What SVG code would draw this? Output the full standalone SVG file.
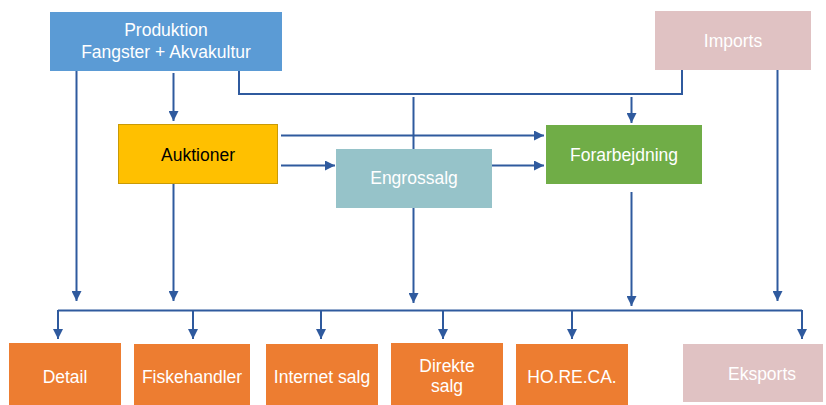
<svg xmlns="http://www.w3.org/2000/svg" width="826" height="405" viewBox="0 0 826 405">
<defs>
<marker id="ah" viewBox="0 0 10 10" refX="10" refY="5" markerWidth="10" markerHeight="10" markerUnits="userSpaceOnUse" orient="auto">
<path d="M0,0 L10,5 L0,10 z" fill="#2F5A9E"/>
</marker>
<style>
.t{font-family:"Liberation Sans",Arial,sans-serif;font-size:17.5px;text-anchor:middle;fill:#ffffff}
.c{fill:none;stroke:#2F5A9E;stroke-width:2}
.a{marker-end:url(#ah)}
.o{fill:#ED7D31}
</style>
</defs>
<rect width="826" height="405" fill="#ffffff"/>
<g id="connectors">
<path class="c" d="M239,71 V94 H682 V70"/>
<path class="c a" d="M76.5,71 V301"/>
<path class="c a" d="M173.5,73 V121"/>
<path class="c a" d="M173.5,184 V301"/>
<path class="c a" d="M413.5,97 V303"/>
<path class="c a" d="M631.5,97 V123"/>
<path class="c a" d="M631.5,192 V306"/>
<path class="c a" d="M777.5,70 V301"/>
<path class="c a" d="M281,135.5 H544"/>
<path class="c a" d="M281,165.5 H335"/>
<path class="c a" d="M492,165.5 H544"/>
<path class="c" d="M58,310.5 H802"/>
<path class="c a" d="M58,310 V339"/>
<path class="c a" d="M193,310 V339"/>
<path class="c a" d="M321,310 V339"/>
<path class="c a" d="M443,310 V339"/>
<path class="c a" d="M572,310 V339"/>
<path class="c a" d="M802,310 V339"/>
</g>
<g id="produktion">
<rect x="50" y="12" width="232" height="59" fill="#5B9BD5"/>
<text class="t" x="166" y="36">Produktion</text>
<text class="t" x="166" y="58">Fangster + Akvakultur</text>
</g>
<g id="imports">
<rect x="655" y="11" width="156" height="59" fill="#E0C2C3"/>
<text class="t" x="733" y="47">Imports</text>
</g>
<g id="auktioner">
<rect x="118.5" y="124.5" width="159" height="59" fill="#FFC000" stroke="#C99A06" stroke-width="1"/>
<text class="t" x="198" y="161" style="fill:#000000">Auktioner</text>
</g>
<g id="engrossalg">
<rect x="336" y="149" width="156" height="59" fill="#96C3C9"/>
<text class="t" x="414" y="184">Engrossalg</text>
</g>
<g id="forarbejdning">
<rect x="546" y="125" width="156" height="59" fill="#70AD47"/>
<text class="t" x="624" y="161">Forarbejdning</text>
</g>
<g id="detail">
<rect class="o" x="9" y="343" width="112" height="62"/>
<text class="t" x="65" y="383">Detail</text>
</g>
<g id="fiskehandler">
<rect class="o" x="134" y="344" width="116" height="61"/>
<text class="t" x="192" y="383">Fiskehandler</text>
</g>
<g id="internet">
<rect class="o" x="266" y="344" width="112" height="61"/>
<text class="t" x="322" y="383">Internet salg</text>
</g>
<g id="direkte">
<rect class="o" x="391" y="343" width="112" height="62"/>
<text class="t" x="447" y="372">Direkte</text>
<text class="t" x="447" y="392">salg</text>
</g>
<g id="horeca">
<rect class="o" x="516" y="344" width="112" height="61"/>
<text class="t" x="572" y="383">HO.RE.CA.</text>
</g>
<g id="eksports">
<rect x="683" y="344" width="140" height="58" fill="#E0C2C3"/>
<text class="t" x="762" y="380">Eksports</text>
</g>
</svg>
